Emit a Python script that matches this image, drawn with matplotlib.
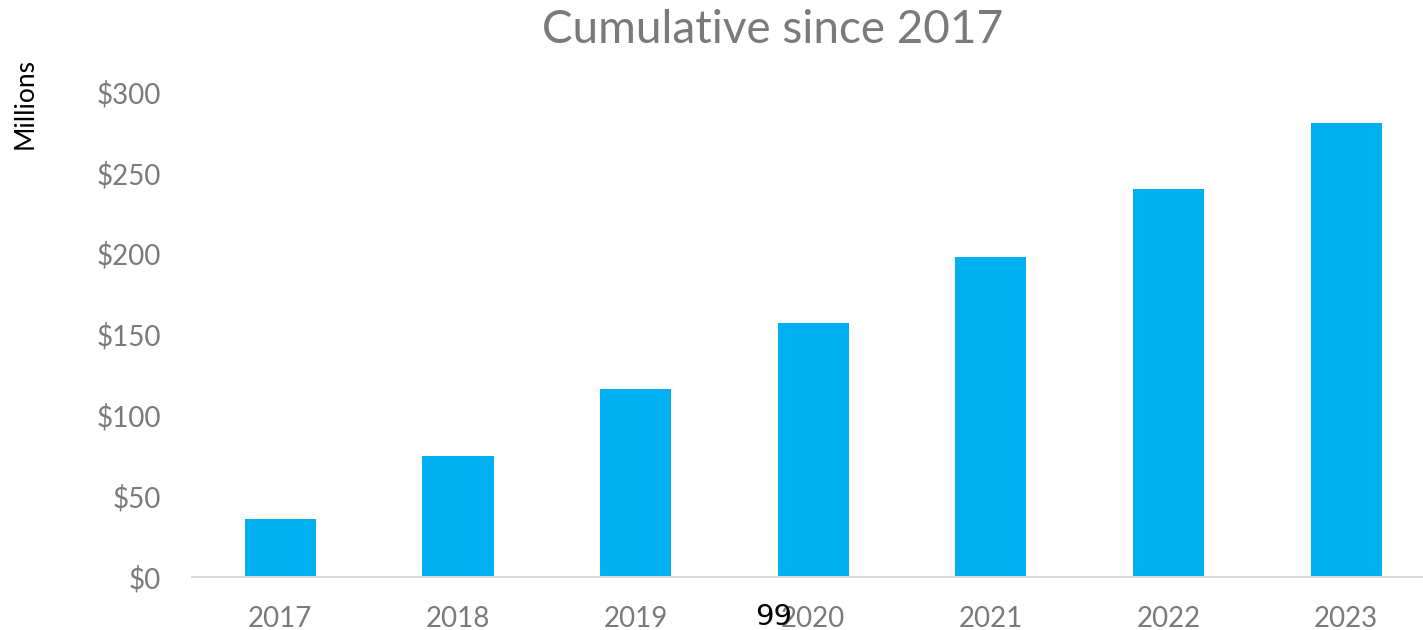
import matplotlib.pyplot as plt
from matplotlib.ticker import FuncFormatter

years = ['2017', '2018', '2019', '2020', '2021', '2022', '2023']
cumulative = [36, 75, 116, 157, 198, 240, 281]  # $ millions

plt.rcParams['font.family'] = ['Lato', 'DejaVu Sans']

fig = plt.figure(figsize=(14.23, 6.3), dpi=100)
ax = fig.add_axes([0.1346, 0.0841, 0.8738, 0.770])

x = range(len(years))
ax.bar(x, cumulative, width=0.4, color='#00B0F0')

ax.set_xlim(-0.5, len(years) - 0.5)
ax.set_ylim(0, 300)
ax.set_yticks(range(0, 301, 50))
ax.yaxis.set_major_formatter(FuncFormatter(lambda v, p: f'${v:.0f}'))
ax.set_xticks(list(x))
ax.set_xticklabels(years)

for s in ['top', 'right', 'left']:
    ax.spines[s].set_visible(False)
ax.spines['bottom'].set_color('#d9d9d9')
ax.spines['bottom'].set_linewidth(1.5)
ax.tick_params(axis='both', length=0, labelsize=20, labelcolor='#7a7a7a')
ax.tick_params(axis='x', pad=21)
ax.tick_params(axis='y', pad=22)

fig.text(0.543, 0.952, 'Cumulative since 2017', ha='center', va='center',
         fontsize=33, color='#7a7a7a')
fig.text(0.0175, 0.836, 'Millions', rotation=90, ha='center', va='center',
         fontsize=19, color='black')
fig.text(0.5435, 0.021, '99', ha='center', va='center', fontsize=21, color='black',
         family=['DejaVu Sans'])

fig.savefig('out.png', dpi=100)
